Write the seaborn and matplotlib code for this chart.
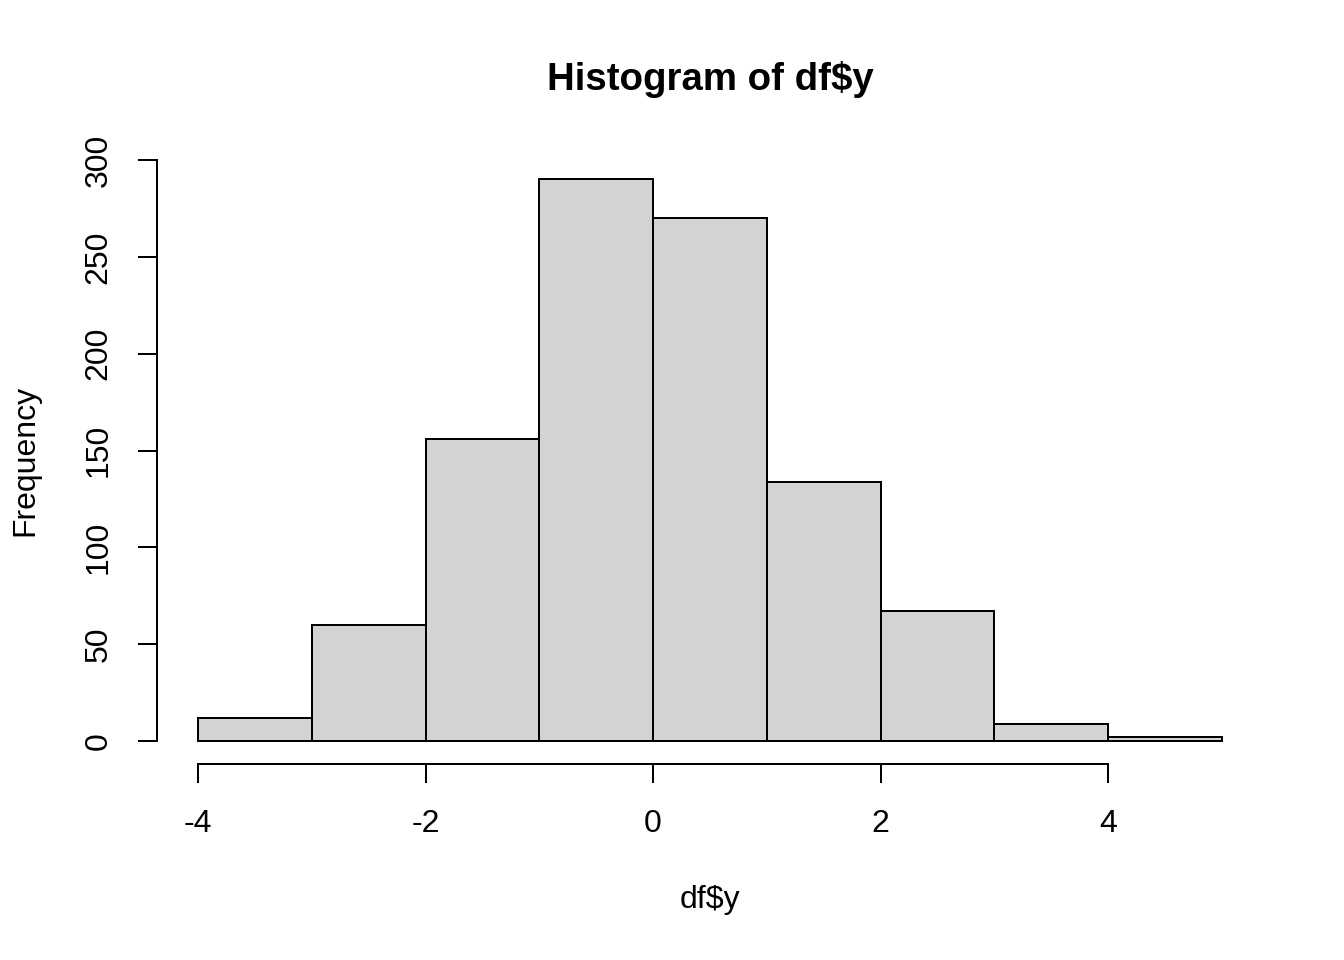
import numpy as np
import pandas as pd
import matplotlib
matplotlib.use("Agg")
import matplotlib.pyplot as plt
import seaborn as sns

bin_edges = [-4, -3, -2, -1, 0, 1, 2, 3, 4, 5]
counts = [12, 60, 156, 290, 270, 134, 67, 9, 2]
x_ticks = [-4, -2, 0, 2, 4]
y_ticks = [0, 50, 100, 150, 200, 250, 300]

sns.set_style("white")
plt.rcParams['font.family'] = ['Liberation Sans', 'DejaVu Sans']
plt.rcParams['text.color'] = 'black'

df = pd.DataFrame({"y": np.array(bin_edges[:-1]) + 0.5, "n": counts})

fig = plt.figure(figsize=(7, 5), dpi=192)
ax = fig.add_axes([157/1344, 1 - 763.5/960, (1263 - 157)/1344, (763.5 - 157)/960])

sns.histplot(data=df, x="y", weights="n", bins=bin_edges, color="#D3D3D3",
             edgecolor="black", linewidth=0.75, alpha=1, ax=ax)

ax.set_xlim(-4.36, 5.36)
ax.set_ylim(-11.6, 301.6)
ax.set_xticks(x_ticks)
ax.set_yticks(y_ticks)
ax.set_xticklabels([str(t) for t in x_ticks])
ax.set_yticklabels([str(t) for t in y_ticks])
ax.set_xlabel("")
ax.set_ylabel("")

for s in ["top", "right"]:
    ax.spines[s].set_visible(False)
ax.spines["left"].set_bounds(0, 300)
ax.spines["bottom"].set_bounds(-4, 4)
for s in ["left", "bottom"]:
    ax.spines[s].set_linewidth(0.75)
    ax.spines[s].set_color("black")

ax.tick_params(axis="both", direction="out", length=7.2, width=0.75,
               color="black", labelsize=12, labelcolor="black", pad=9)
ax.tick_params(axis="x", bottom=True, pad=10)
ax.tick_params(axis="y", left=True, labelrotation=90)
for lbl in ax.get_yticklabels():
    lbl.set_va("center")
    lbl.set_ha("right")

fig.text(710/1344, 1 - 80/960, "Histogram of df$y", ha="center", va="center",
         fontsize=14.4, fontweight="bold", color="black")
fig.text(710/1344, 1 - 900/960, "df$y", ha="center", va="center", fontsize=12,
         color="black")
fig.text(25/1344, 1 - 460/960, "Frequency", ha="center", va="center",
         fontsize=12, rotation=90, color="black")

fig.savefig("out.png", dpi=192, facecolor="white")
